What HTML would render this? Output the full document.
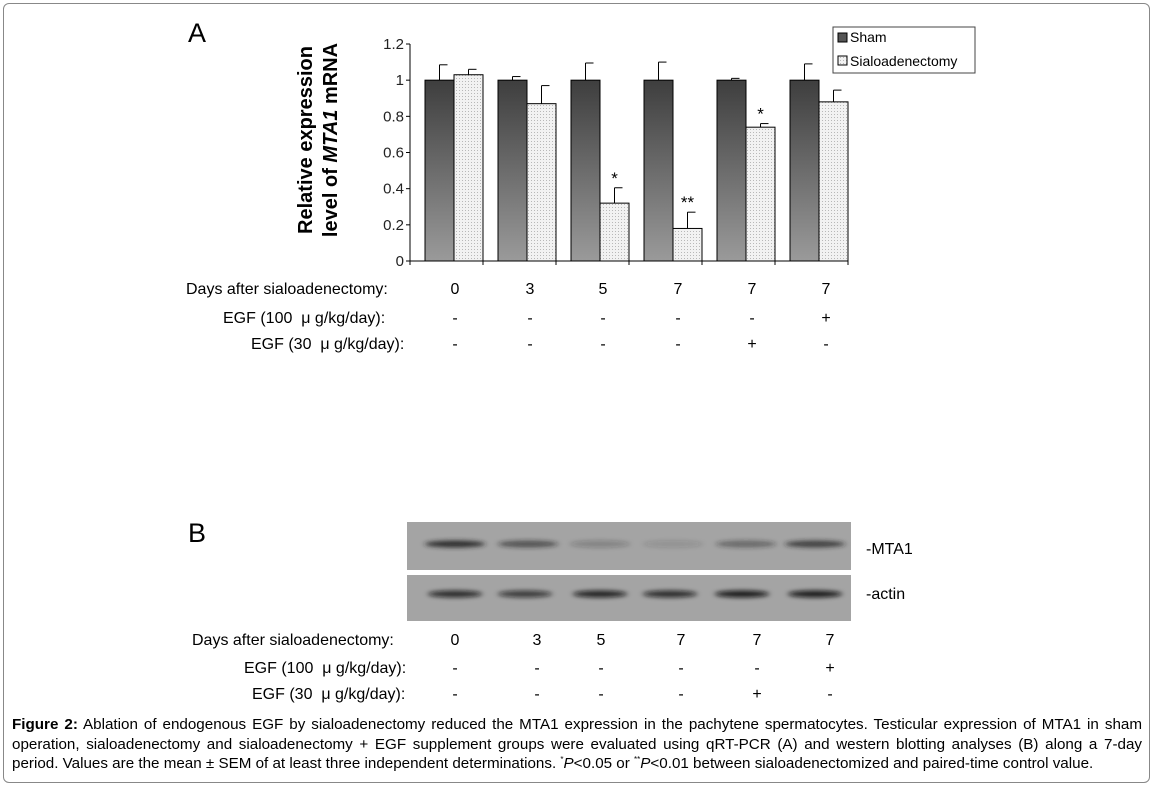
<!DOCTYPE html>
<html><head><meta charset="utf-8"><style>
body{margin:0;width:1154px;height:786px;background:#fff;font-family:"Liberation Sans",sans-serif;position:relative;overflow:hidden}
.frame{position:absolute;left:3px;top:3px;width:1145px;height:778px;border:1px solid #888;border-radius:6px}
.t{position:absolute;font-size:16px;color:#000;white-space:nowrap}
.c{transform:translateX(-50%)}
.cap{position:absolute;left:12px;top:715px;width:1130px;font-size:15.2px;line-height:19.5px;color:#000}
.cap div{white-space:nowrap;text-align:justify;text-align-last:justify;height:19.5px}
.cap div.last{text-align-last:left}
.cap sup{font-size:8px;line-height:0;vertical-align:6px}
</style></head><body>
<div class="frame"></div>
<div class="t" style="left:188px;top:18px;font-size:27px">A</div>
<div class="t" style="left:188px;top:518px;font-size:27px">B</div>
<svg id="chart" width="1154" height="786" style="position:absolute;left:0;top:0">
<defs>
<linearGradient id="gs" x1="0" y1="0" x2="0" y2="1"><stop offset="0" stop-color="#3e3e3e"/><stop offset="1" stop-color="#9a9a9a"/></linearGradient>
<pattern id="dots" width="3" height="3" patternUnits="userSpaceOnUse"><rect width="3" height="3" fill="#f2f2f2"/><rect width="1" height="1" fill="#b8b8b8"/></pattern>
<filter id="bl" x="-20%" y="-200%" width="140%" height="500%"><feGaussianBlur stdDeviation="3 2"/></filter>
</defs>
</svg>
<div class="t" style="left:186px;top:281px">Days after sialoadenectomy:</div>
<div class="t" style="left:223px;top:310px">EGF (100 &nbsp;μ g/kg/day):</div>
<div class="t" style="left:251px;top:336px">EGF (30 &nbsp;μ g/kg/day):</div>
<div class="t" style="left:192px;top:632px">Days after sialoadenectomy:</div>
<div class="t" style="left:244px;top:660px">EGF (100 &nbsp;μ g/kg/day):</div>
<div class="t" style="left:252px;top:686px">EGF (30 &nbsp;μ g/kg/day):</div>
<div class="t" style="left:866px;top:541px">-MTA1</div>
<div class="t" style="left:866px;top:586px">-actin</div>
<div id="rows"></div>
<div class="cap">
<div><b>Figure 2:</b> Ablation of endogenous EGF by sialoadenectomy reduced the MTA1 expression in the pachytene spermatocytes. Testicular expression of MTA1 in sham</div>
<div>operation, sialoadenectomy and sialoadenectomy + EGF supplement groups were evaluated using qRT-PCR (A) and western blotting analyses (B) along a 7-day</div>
<div class="last">period. Values are the mean ± SEM of at least three independent determinations. <sup>*</sup><i>P</i>&lt;0.05 or <sup>**</sup><i>P</i>&lt;0.01 between sialoadenectomized and paired-time control value.</div>
</div>
<script>
const days=["0","3","5","7","7","7"];
const egf100=["-","-","-","-","-","+"];
const egf30=["-","-","-","-","+","-"];
const sham=[1,1,1,1,1,1];
const shamErr=[0.085,0.02,0.095,0.1,0.01,0.09];
const sialo=[1.03,0.87,0.32,0.18,0.74,0.88];
const sialoErr=[0.03,0.1,0.085,0.09,0.02,0.065];
const stars=["","","*","**","*",""];
const yTicks=[0,0.2,0.4,0.6,0.8,1,1.2];
const mtaBand=[0.9,0.6,0.25,0.15,0.45,0.75];
const actinBand=[0.8,0.7,0.85,0.8,0.9,0.9];
const NS="http://www.w3.org/2000/svg";
const svg=document.getElementById('chart');
const L=410,B=261,T=44,GW=73;
const y=v=>B-(v/1.2)*(B-T);
const gx=i=>L+i*GW;
function mk(tag,at,parent){const e=document.createElementNS(NS,tag);for(const k in at)e.setAttribute(k,at[k]);(parent||svg).appendChild(e);return e;}
const yt=mk('text',{x:0,y:0,'font-size':20,'font-weight':'bold','text-anchor':'middle',transform:'translate(312,140) rotate(-90)'});
yt.textContent='Relative expression';


const yt2=mk('text',{x:0,y:0,'font-size':20,'font-weight':'bold','text-anchor':'middle',transform:'translate(337,140) rotate(-90)'});
yt2.innerHTML='level of <tspan font-style="italic">MTA1</tspan> mRNA';


yTicks.forEach(v=>{
 mk('line',{x1:L-4,x2:L,y1:y(v),y2:y(v),stroke:'#000'});
 const t=mk('text',{x:L-6,y:y(v)+5,'font-size':15,'text-anchor':'end',fill:'#222'});t.textContent=String(v);
 
 
});
mk('line',{x1:L,x2:L,y1:T,y2:B,stroke:'#000'});
mk('line',{x1:L,x2:L+6*GW,y1:B,y2:B,stroke:'#000'});
for(let i=0;i<=6;i++)mk('line',{x1:gx(i),x2:gx(i),y1:B,y2:B+4,stroke:'#000'});
const BW=29;
function err(x,v,e){mk('line',{x1:x,x2:x,y1:y(v),y2:y(v+e),stroke:'#000'});mk('line',{x1:x,x2:x+8,y1:y(v+e),y2:y(v+e),stroke:'#000'});}
sham.forEach((v,i)=>{
 const x=gx(i)+15;
 const r=mk('rect',{x:x,y:y(v),width:BW,height:B-y(v),fill:'url(#gs)',stroke:'#000'});
 
 
 err(x+BW/2,v,shamErr[i]);
});
sialo.forEach((v,i)=>{
 const x=gx(i)+15+BW;
 const r=mk('rect',{x:x,y:y(v),width:BW,height:B-y(v),fill:'url(#dots)',stroke:'#000'});
 
 
 err(x+BW/2,v,sialoErr[i]);
 if(stars[i]){const s=mk('text',{x:x+BW/2,y:y(v+sialoErr[i])-4,'font-size':17,'text-anchor':'middle'});s.textContent=stars[i];
 
 }
});
const lg=mk('g',{});


mk('rect',{x:833,y:27,width:142,height:46,fill:'#fff',stroke:'#444'},lg);
mk('rect',{x:838,y:33,width:9,height:9,fill:'#555',stroke:'#000'},lg);
mk('rect',{x:838,y:56,width:9,height:9,fill:'url(#dots)',stroke:'#000'},lg);
let lt=mk('text',{x:850,y:42,'font-size':14},lg);lt.textContent='Sham';
lt=mk('text',{x:850,y:66,'font-size':14},lg);lt.textContent='Sialoadenectomy';
const cA=[455,530,603,678,752,826],cB=[455,537,601,681,757,830];
function row(arr,xs,top,name){arr.forEach((s,i)=>{const d=document.createElement('div');d.className='t c';d.style.left=xs[i]+'px';d.style.top=top+'px';d.textContent=s;
 
 
 document.getElementById('rows').appendChild(d);});}
row(days,cA,281,'day-value');row(egf100,cA,310,'egf100-value');row(egf30,cA,336,'egf30-value');
row(days,cB,632,'day-value-b');row(egf100,cB,660,'egf100-value-b');row(egf30,cB,686,'egf30-value-b');
const b1=mk('rect',{x:407,y:522,width:444,height:48,fill:'#a4a4a4'});


const b2=mk('rect',{x:407,y:575,width:444,height:46,fill:'#a4a4a4'});


const lanesM=[455,528,600,673,746,815];
const lanesA=[455,525,600,670,742,815];
mtaBand.forEach((a,i)=>{const e=mk('ellipse',{cx:lanesM[i],cy:544,rx:30,ry:3.5,fill:'#222','fill-opacity':a,filter:'url(#bl)'});
 
 });
actinBand.forEach((a,i)=>{const e=mk('ellipse',{cx:lanesA[i],cy:594,rx:27,ry:3.5,fill:'#111','fill-opacity':a,filter:'url(#bl)'});
 
 });
</script>
</body></html>
